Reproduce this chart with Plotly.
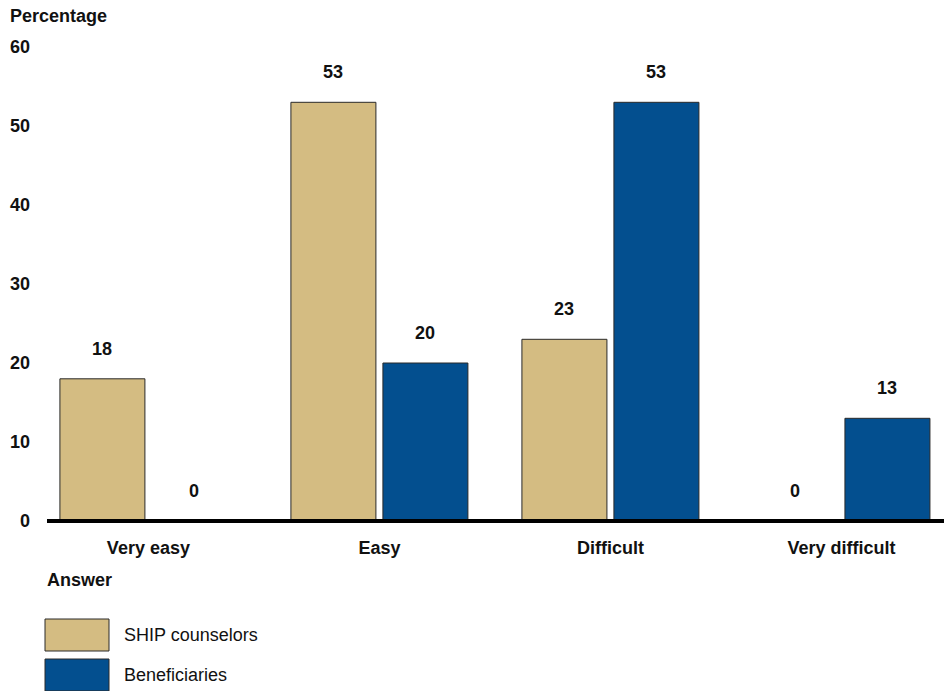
import plotly.graph_objects as go

# Survey answers and the share of each group giving them
answers = ["Very easy", "Easy", "Difficult", "Very difficult"]
series_names = ["SHIP counselors", "Beneficiaries"]
ship_counselors = [18, 53, 23, 0]
beneficiaries = [0, 20, 53, 13]
y_ticks = [0, 10, 20, 30, 40, 50, 60]

colors = ["#D4BC82", "#034F8F"]
font_family = "Liberation Sans, Arial, sans-serif"

W, H = 951, 691
M_L, M_R, M_T, M_B = 47, 7, 47, 170
plot_w = W - M_L - M_R
plot_h = H - M_T - M_B


def px_to_paper_x(px):
    return (px - M_L) / plot_w


def px_to_paper_y(py):
    return (H - M_B - py) / plot_h


fig = go.Figure()
for name, vals, col in zip(series_names, [ship_counselors, beneficiaries], colors):
    fig.add_trace(go.Bar(
        x=answers, y=vals, name=name,
        marker=dict(color=col, line=dict(color="#2a2a2a", width=1)),
        showlegend=False,
    ))

# Value labels above each bar
for shift, vals in zip([-46, 46], [ship_counselors, beneficiaries]):
    for a, v in zip(answers, vals):
        fig.add_annotation(
            x=a, y=v, xref="x", yref="y", text=f"<b>{v}</b>", showarrow=False,
            xshift=shift, yshift=30, yanchor="middle",
            font=dict(family=font_family, size=18, color="#111111"),
        )

# Heavy baseline at zero (the bottom edge of the plot area)
fig.add_shape(type="line", xref="paper", yref="paper", x0=0, x1=1, y0=0, y1=0,
              line=dict(color="black", width=4), layer="above")

# Axis titles
fig.add_annotation(x=px_to_paper_x(8), y=px_to_paper_y(16), xref="paper", yref="paper",
                   text="<b>Percentage</b>", showarrow=False, xanchor="left", yanchor="middle",
                   font=dict(family=font_family, size=18, color="#111111"))
fig.add_annotation(x=px_to_paper_x(45), y=px_to_paper_y(580), xref="paper", yref="paper",
                   text="<b>Answer</b>", showarrow=False, xanchor="left", yanchor="middle",
                   font=dict(family=font_family, size=18, color="#111111"))

# Legend drawn as boxed swatches with labels
for i, (name, col) in enumerate(zip(series_names, colors)):
    top = 619 + 40 * i
    fig.add_shape(type="rect", xref="paper", yref="paper",
                  x0=px_to_paper_x(45), x1=px_to_paper_x(109),
                  y0=px_to_paper_y(top), y1=px_to_paper_y(top + 32),
                  fillcolor=col, line=dict(color="#2a2a2a", width=1))
    fig.add_annotation(x=px_to_paper_x(122), y=px_to_paper_y(top + 16), xref="paper", yref="paper",
                       text=name, showarrow=False, xanchor="left", yanchor="middle",
                       font=dict(family=font_family, size=18, color="#111111"))

fig.update_layout(
    width=W, height=H,
    margin=dict(l=M_L, r=M_R, t=M_T, b=M_B, pad=0),
    paper_bgcolor="white", plot_bgcolor="white",
    barmode="group", bargap=0.2035, bargroupgap=0.076,
    font=dict(family=font_family, size=18, color="#111111"),
    xaxis=dict(
        type="category", range=[-0.439, 3.444], showgrid=False, showline=False,
        zeroline=False, ticks="", ticklabelstandoff=14,
        tickfont=dict(family=font_family, size=18, color="#111111", weight="bold"),
    ),
    yaxis=dict(
        range=[0, 60], tickvals=y_ticks, showgrid=False, showline=False,
        zeroline=False, ticks="", ticklabelstandoff=16,
        tickfont=dict(family=font_family, size=18, color="#111111", weight="bold"),
    ),
)

fig.write_html("out.html")
